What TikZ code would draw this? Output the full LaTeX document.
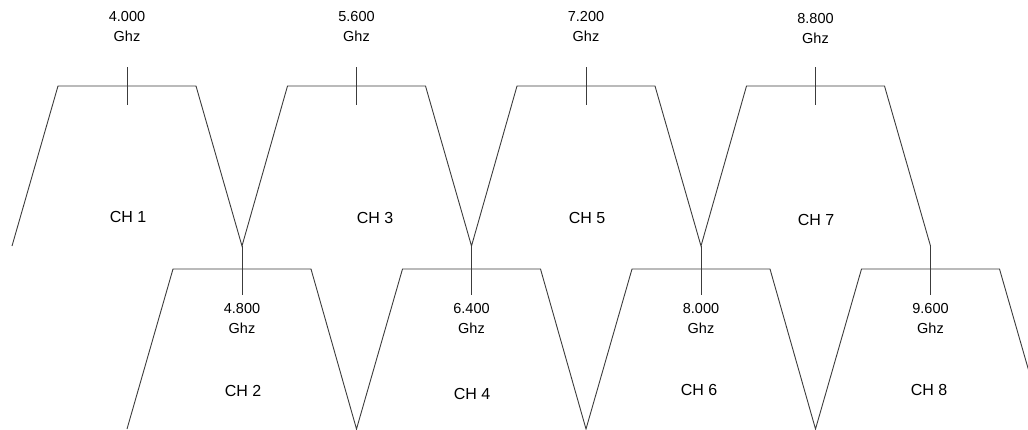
\documentclass[tikz,border=0pt]{standalone}
\usepackage{fontspec}
\setmainfont{Liberation Sans}
\definecolor{edge}{RGB}{60,60,60}
\begin{document}
\begin{tikzpicture}[x=1pt,y=-1pt,
  band/.style={line width=0.9pt, line join=miter, draw=edge},
  mark line/.style={line width=0.9pt, draw=edge},
  lbl/.style={font=\fontsize{14.5}{16}\selectfont, inner sep=0pt, anchor=base},
  chlbl/.style={font=\fontsize{16}{18}\selectfont, inner sep=0pt, anchor=base}]
\useasboundingbox (0,0) rectangle (1028,429);
\begin{scope}
\clip (0,0) rectangle (1028,429);
% odd channels (upper row)
\draw[band] (12,246) -- (58,86) -- (196,86) -- (242,246)
  -- (287.5,86) -- (425.5,86) -- (471.5,246)
  -- (517,86) -- (655,86) -- (701,246)
  -- (746.5,86) -- (884.5,86) -- (930.5,246);
% even channels (lower row)
\draw[band] (127,429) -- (173,269) -- (311,269) -- (356.5,429)
  -- (402.5,269) -- (540.5,269) -- (586,429)
  -- (632,269) -- (770,269) -- (815.5,429)
  -- (861.5,269) -- (999.5,269) -- (1045.5,429);
\end{scope}
% centre marks, upper row
\foreach \x in {127,356.5,586,815.5}{
  \draw[mark line] (\x,67) -- (\x,105);
}
% centre marks, lower row
\foreach \x in {242,471.5,701,930.5}{
  \draw[mark line] (\x,246) -- (\x,295);
}
% frequency labels, upper row
\node[lbl] (f1a) at (127,21) {4.000};
\node[lbl] (f1b) at (127,41) {Ghz};
\node[lbl] (f3a) at (356.5,21) {5.600};
\node[lbl] (f3b) at (356.5,41) {Ghz};
\node[lbl] (f5a) at (586,21) {7.200};
\node[lbl] (f5b) at (586,41) {Ghz};
\node[lbl] (f7a) at (815.5,23) {8.800};
\node[lbl] (f7b) at (815.5,43) {Ghz};
% frequency labels, lower row
\node[lbl] (f2a) at (242,313) {4.800};
\node[lbl] (f2b) at (242,333) {Ghz};
\node[lbl] (f4a) at (471.5,313) {6.400};
\node[lbl] (f4b) at (471.5,333) {Ghz};
\node[lbl] (f6a) at (701,313) {8.000};
\node[lbl] (f6b) at (701,333) {Ghz};
\node[lbl] (f8a) at (930.5,313) {9.600};
\node[lbl] (f8b) at (930.5,333) {Ghz};
% channel names
\node[chlbl] (ch1) at (128,222) {CH 1};
\node[chlbl] (ch3) at (375,223) {CH 3};
\node[chlbl] (ch5) at (587,223.5) {CH 5};
\node[chlbl] (ch7) at (816,225) {CH 7};
\node[chlbl] (ch2) at (243,396) {CH 2};
\node[chlbl] (ch4) at (472,399) {CH 4};
\node[chlbl] (ch6) at (699,395) {CH 6};
\node[chlbl] (ch8) at (929,395) {CH 8};
\end{tikzpicture}
\end{document}
